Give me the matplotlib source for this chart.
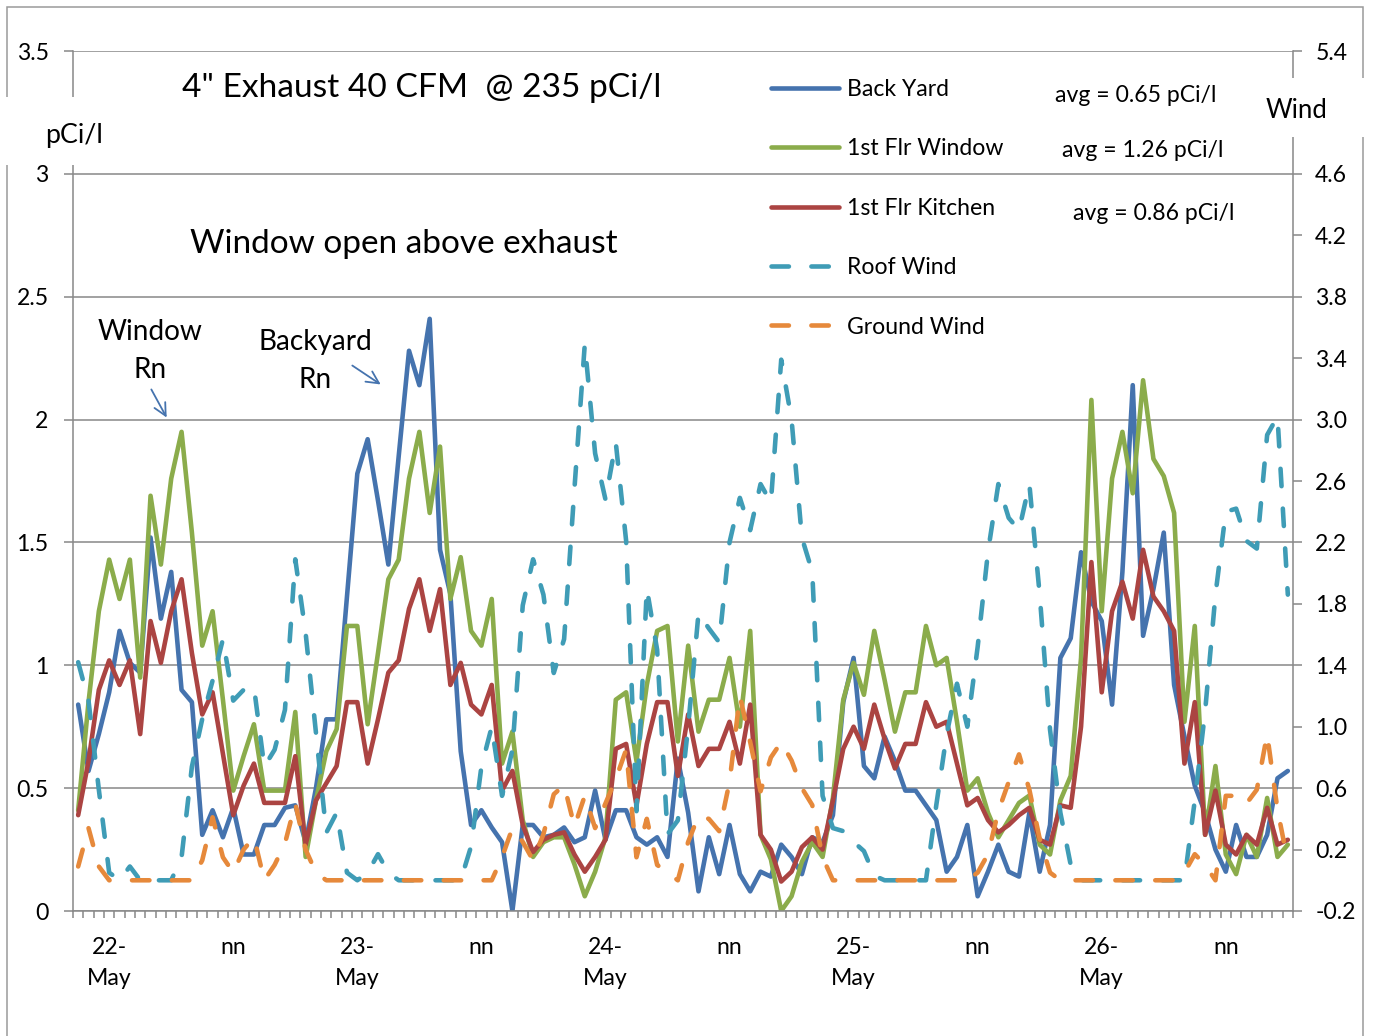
import matplotlib
matplotlib.use('Agg')
import matplotlib.pyplot as plt
import numpy as np
from matplotlib.patches import Rectangle
from matplotlib.ticker import FixedLocator, FixedFormatter

plt.rcParams['font.family'] = ['Lato', 'DejaVu Sans']

# ---------------- data (hourly readings, 21-May 21:00 .. 26-May) ----------------
back_yard = [0.84, 0.57, 0.72, 0.89, 1.14, 1.01, 0.97, 1.52, 1.19, 1.38,
             0.90, 0.85, 0.31, 0.41, 0.30, 0.42, 0.23, 0.23, 0.35, 0.35,
             0.42, 0.43, 0.28, 0.50, 0.78, 0.78, 1.28, 1.78, 1.92, 1.67,
             1.41, 1.85, 2.28, 2.14, 2.41, 1.47, 1.29, 0.65, 0.35, 0.41,
             0.34, 0.28, 0.00, 0.35, 0.35, 0.30, 0.31, 0.34, 0.28, 0.30,
             0.49, 0.29, 0.41, 0.41, 0.30, 0.27, 0.30, 0.22, 0.62, 0.40,
             0.08, 0.30, 0.15, 0.35, 0.15, 0.08, 0.16, 0.14, 0.27, 0.22,
             0.15, 0.30, 0.28, 0.39, 0.85, 1.03, 0.59, 0.54, 0.71, 0.61,
             0.49, 0.49, 0.43, 0.37, 0.16, 0.22, 0.35, 0.06, 0.16, 0.27,
             0.16, 0.14, 0.40, 0.16, 0.35, 1.03, 1.11, 1.46, 1.26, 1.18,
             0.84, 1.38, 2.14, 1.12, 1.31, 1.54, 0.92, 0.71, 0.51, 0.40,
             0.25, 0.16, 0.35, 0.22, 0.22, 0.31, 0.54, 0.57]

flr_window = [0.41, 0.85, 1.22, 1.43, 1.27, 1.43, 0.95, 1.69, 1.41, 1.76,
              1.95, 1.54, 1.08, 1.22, 0.86, 0.49, 0.63, 0.76, 0.49, 0.49,
              0.49, 0.81, 0.22, 0.45, 0.65, 0.74, 1.16, 1.16, 0.76, 1.05,
              1.35, 1.43, 1.76, 1.95, 1.62, 1.89, 1.27, 1.44, 1.14, 1.08,
              1.27, 0.60, 0.73, 0.37, 0.22, 0.28, 0.30, 0.30, 0.19, 0.06,
              0.16, 0.30, 0.86, 0.89, 0.61, 0.92, 1.14, 1.16, 0.69, 1.08,
              0.73, 0.86, 0.86, 1.03, 0.75, 1.14, 0.31, 0.21, 0.00, 0.06,
              0.20, 0.28, 0.22, 0.46, 0.86, 1.01, 0.88, 1.14, 0.94, 0.73,
              0.89, 0.89, 1.16, 1.00, 1.03, 0.77, 0.49, 0.54, 0.40, 0.30,
              0.37, 0.44, 0.47, 0.27, 0.23, 0.45, 0.55, 1.03, 2.08, 1.22,
              1.76, 1.95, 1.70, 2.16, 1.84, 1.77, 1.62, 0.77, 1.16, 0.31,
              0.59, 0.23, 0.15, 0.31, 0.22, 0.46, 0.22, 0.27]

flr_kitchen = [0.39, 0.61, 0.90, 1.02, 0.92, 1.02, 0.72, 1.18, 1.01, 1.22,
               1.35, 1.05, 0.80, 0.89, 0.64, 0.39, 0.51, 0.60, 0.44, 0.44,
               0.44, 0.63, 0.27, 0.45, 0.52, 0.59, 0.85, 0.85, 0.60, 0.78,
               0.97, 1.02, 1.23, 1.35, 1.14, 1.31, 0.92, 1.01, 0.84, 0.80,
               0.92, 0.49, 0.57, 0.35, 0.24, 0.29, 0.31, 0.32, 0.23, 0.16,
               0.22, 0.29, 0.66, 0.68, 0.43, 0.68, 0.85, 0.85, 0.55, 0.80,
               0.59, 0.66, 0.66, 0.77, 0.60, 0.84, 0.31, 0.25, 0.12, 0.16,
               0.26, 0.30, 0.25, 0.45, 0.66, 0.75, 0.66, 0.84, 0.70, 0.58,
               0.68, 0.68, 0.85, 0.75, 0.77, 0.60, 0.43, 0.46, 0.37, 0.32,
               0.35, 0.39, 0.42, 0.29, 0.27, 0.43, 0.42, 0.75, 1.42, 0.89,
               1.22, 1.34, 1.19, 1.47, 1.28, 1.22, 1.14, 0.60, 0.85, 0.31,
               0.49, 0.27, 0.23, 0.31, 0.27, 0.42, 0.27, 0.29]

roof_wind = [1.42, 1.17, 0.59, 0.05, 0.00, 0.09, 0.00, 0.00, 0.00, 0.00,
             0.15, 0.74, 1.05, 1.30, 1.57, 1.17, 1.24, 1.26, 0.74, 0.85,
             1.11, 2.09, 1.61, 0.96, 0.31, 0.44, 0.05, 0.00, 0.05, 0.17,
             0.05, 0.00, 0.00, 0.00, 0.00, 0.00, 0.00, 0.00, 0.22, 0.74,
             1.00, 0.55, 0.85, 1.79, 2.09, 1.86, 1.35, 1.57, 2.55, 3.49,
             2.78, 2.48, 2.85, 2.21, 0.45, 1.90, 1.50, 0.30, 0.39, 1.00,
             1.74, 1.64, 1.55, 2.20, 2.49, 2.28, 2.58, 2.46, 3.39, 3.00,
             2.23, 2.01, 0.55, 0.34, 0.32, 0.25, 0.19, 0.03, 0.00, 0.00,
             0.00, 0.00, 0.00, 0.49, 0.95, 1.28, 1.00, 1.52, 2.14, 2.58,
             2.36, 2.28, 2.58, 1.86, 0.98, 0.44, 0.10, 0.00, 0.00, 0.00,
             0.00, 0.00, 0.00, 0.00, 0.00, 0.00, 0.00, 0.00, 0.52, 1.10,
             1.86, 2.40, 2.42, 2.21, 2.16, 2.90, 3.02, 1.86]

ground_wind = [0.09, 0.34, 0.09, 0.00, 0.00, 0.00, 0.00, 0.00, 0.00, 0.00,
               0.00, 0.00, 0.13, 0.41, 0.15, 0.05, 0.20, 0.28, 0.00, 0.10,
               0.24, 0.50, 0.20, 0.05, 0.00, 0.00, 0.00, 0.00, 0.00, 0.00,
               0.00, 0.00, 0.00, 0.00, 0.00, 0.00, 0.00, 0.00, 0.00, 0.00,
               0.00, 0.15, 0.34, 0.25, 0.13, 0.30, 0.56, 0.62, 0.35, 0.55,
               0.34, 0.50, 0.66, 0.85, 0.15, 0.40, 0.10, 0.05, 0.00, 0.25,
               0.42, 0.40, 0.32, 0.64, 1.20, 0.90, 0.58, 0.80, 0.90, 0.78,
               0.60, 0.49, 0.15, 0.00, 0.00, 0.00, 0.00, 0.00, 0.00, 0.00,
               0.00, 0.00, 0.00, 0.00, 0.00, 0.00, 0.00, 0.05, 0.17, 0.45,
               0.64, 0.82, 0.59, 0.27, 0.05, 0.00, 0.00, 0.00, 0.00, 0.00,
               0.00, 0.00, 0.00, 0.00, 0.00, 0.00, 0.00, 0.05, 0.17, 0.10,
               0.00, 0.55, 0.55, 0.50, 0.59, 0.95, 0.46, 0.12]

x_label_pos = [3, 15, 27, 39, 51, 63, 75, 87, 99, 111]
x_labels = ['22-\nMay', 'nn', '23-\nMay', 'nn', '24-\nMay', 'nn',
            '25-\nMay', 'nn', '26-\nMay', 'nn']
left_ticks = [0, 0.5, 1, 1.5, 2, 2.5, 3, 3.5]
left_tick_labels = ['0', '0.5', '1', '1.5', '2', '2.5', '3', '3.5']
right_ticks = [-0.2, 0.2, 0.6, 1.0, 1.4, 1.8, 2.2, 2.6, 3.0, 3.4, 3.8, 4.2, 4.6, 5.0, 5.4]
# the 5.0 label sits under the "Wind" box in the original, so it is not shown
right_tick_labels = ['-0.2', '0.2', '0.6', '1.0', '1.4', '1.8', '2.2', '2.6', '3.0',
                     '3.4', '3.8', '4.2', '4.6', '', '5.4']
series_names = ['Back Yard', '1st Flr Window', '1st Flr Kitchen', 'Roof Wind', 'Ground Wind']
avg_texts = ['avg = 0.65 pCi/l', 'avg = 1.26 pCi/l', 'avg = 0.86 pCi/l']

# ---------------- styling ----------------
BLUE = '#4573AE'
GREEN = '#8BAC4B'
RED = '#AB4442'
TEAL = '#3F9CB6'
ORANGE = '#E6893B'
GRID = '#888888'
BORDER = '#9a9a9a'

W, H = 1378, 1036
fig = plt.figure(figsize=(W / 100, H / 100), dpi=100)


def fx(px):
    return px / W


def fy(py):
    return 1 - py / H


ax = fig.add_axes([fx(73), fy(911), fx(1293) - fx(73), fy(51) - fy(911)])
ax2 = ax.twinx()

LW = 3.3
dash = (0, (3.8, 4.9))

l1, = ax.plot(np.arange(len(back_yard)), back_yard, color=BLUE, lw=LW,
              solid_joinstyle='round', solid_capstyle='round')
l2, = ax.plot(np.arange(len(flr_window)), flr_window, color=GREEN, lw=LW,
              solid_joinstyle='round', solid_capstyle='round')
l3, = ax.plot(np.arange(len(flr_kitchen)), flr_kitchen, color=RED, lw=LW,
              solid_joinstyle='round', solid_capstyle='round')
l4, = ax2.plot(np.arange(len(roof_wind)), roof_wind, color=TEAL, lw=LW, linestyle=dash,
               dash_capstyle='round', dash_joinstyle='round')
l5, = ax2.plot(np.arange(len(ground_wind)), ground_wind, color=ORANGE, lw=LW, linestyle=dash,
               dash_capstyle='round', dash_joinstyle='round')

n = len(back_yard)
ax.set_xlim(-0.5, n - 0.5)
ax.set_ylim(0, 3.5)
ax2.set_ylim(-0.2, 5.4)

# spines
for a in (ax, ax2):
    for s in a.spines.values():
        s.set_color(GRID)
        s.set_linewidth(1.1)
ax.spines['top'].set_visible(False)
ax.spines['right'].set_visible(False)
ax2.spines['top'].set_visible(False)
ax2.spines['left'].set_visible(False)
ax2.spines['bottom'].set_visible(False)

# grid
ax.yaxis.grid(True, color=GRID, lw=1.1)
ax.set_axisbelow(True)

TICK_FS = 16.6
ax.yaxis.set_major_locator(FixedLocator(left_ticks))
ax.yaxis.set_major_formatter(FixedFormatter(left_tick_labels))
ax.tick_params(axis='y', direction='out', length=6.5, width=1.1, color=GRID,
               pad=11, labelsize=TICK_FS)
ax2.yaxis.set_major_locator(FixedLocator(right_ticks))
ax2.yaxis.set_major_formatter(FixedFormatter(right_tick_labels))
ax2.tick_params(axis='y', direction='out', length=6.5, width=1.1, color=GRID,
                pad=9.5, labelsize=TICK_FS)

ax.xaxis.set_major_locator(FixedLocator(x_label_pos))
ax.xaxis.set_major_formatter(FixedFormatter(x_labels))
ax.xaxis.set_minor_locator(FixedLocator(np.arange(-0.5, n, 1.0)))
ax.tick_params(axis='x', which='major', length=0, pad=18.5, labelsize=TICK_FS)
ax.tick_params(axis='x', which='minor', direction='out', length=5, width=1.1, color=GRID)
for t in ax.get_xticklabels():
    t.set_linespacing(1.62)

# legend
leg = ax2.legend([l1, l2, l3, l4, l5], series_names, loc='upper left',
                 bbox_to_anchor=(fx(771), fy(79)), bbox_transform=fig.transFigure,
                 frameon=False, borderpad=0, borderaxespad=0, fontsize=TICK_FS,
                 handlelength=2.95, handletextpad=0.35, labelspacing=1.665)

# avg annotations
fig.text(fx(1055), fy(102), avg_texts[0], fontsize=TICK_FS, va='baseline', ha='left')
fig.text(fx(1062), fy(157), avg_texts[1], fontsize=TICK_FS, va='baseline', ha='left')
fig.text(fx(1073), fy(220), avg_texts[2], fontsize=TICK_FS, va='baseline', ha='left')

# titles / notes
fig.text(fx(182), fy(97), '4" Exhaust 40 CFM  @ 235 pCi/l', fontsize=24.1, va='baseline', ha='left')
fig.text(fx(190), fy(253), 'Window open above exhaust', fontsize=24.0, va='baseline', ha='left')
fig.text(fx(150), fy(340), 'Window', fontsize=20.2, va='baseline', ha='center')
fig.text(fx(150), fy(378), 'Rn', fontsize=20.2, va='baseline', ha='center')
fig.text(fx(315), fy(350), 'Backyard', fontsize=20.2, va='baseline', ha='center')
fig.text(fx(315), fy(388), 'Rn', fontsize=20.2, va='baseline', ha='center')

ax.annotate('', xy=(168, H - 420), xycoords='figure pixels',
            xytext=(150, H - 387), textcoords='figure pixels',
            arrowprops=dict(arrowstyle='->', color=BLUE, lw=1.3, mutation_scale=22))
ax.annotate('', xy=(383, H - 386), xycoords='figure pixels',
            xytext=(350, H - 364), textcoords='figure pixels',
            arrowprops=dict(arrowstyle='->', color=BLUE, lw=1.3, mutation_scale=22))

# figure border
fig.add_artist(Rectangle((fx(7), fy(1060)), fx(1363) - fx(7), fy(7) - fy(1060),
                         transform=fig.transFigure, fill=False, edgecolor=BORDER,
                         lw=1.1, zorder=1))

# white label boxes that cover the axis lines
fig.add_artist(Rectangle((fx(0), fy(165)), fx(125), fy(97) - fy(165),
                         transform=fig.transFigure, facecolor='white', edgecolor='none', zorder=10))
fig.add_artist(Rectangle((fx(1245), fy(137)), fx(133), fy(78) - fy(137),
                         transform=fig.transFigure, facecolor='white', edgecolor='none', zorder=10))
fig.text(fx(45), fy(143), 'pCi/l', fontsize=19.3, va='baseline', ha='left', zorder=11)
fig.text(fx(1266), fy(118), 'Wind', fontsize=18.5, va='baseline', ha='left', zorder=11)

fig.savefig('out.png', dpi=100, facecolor='white')
